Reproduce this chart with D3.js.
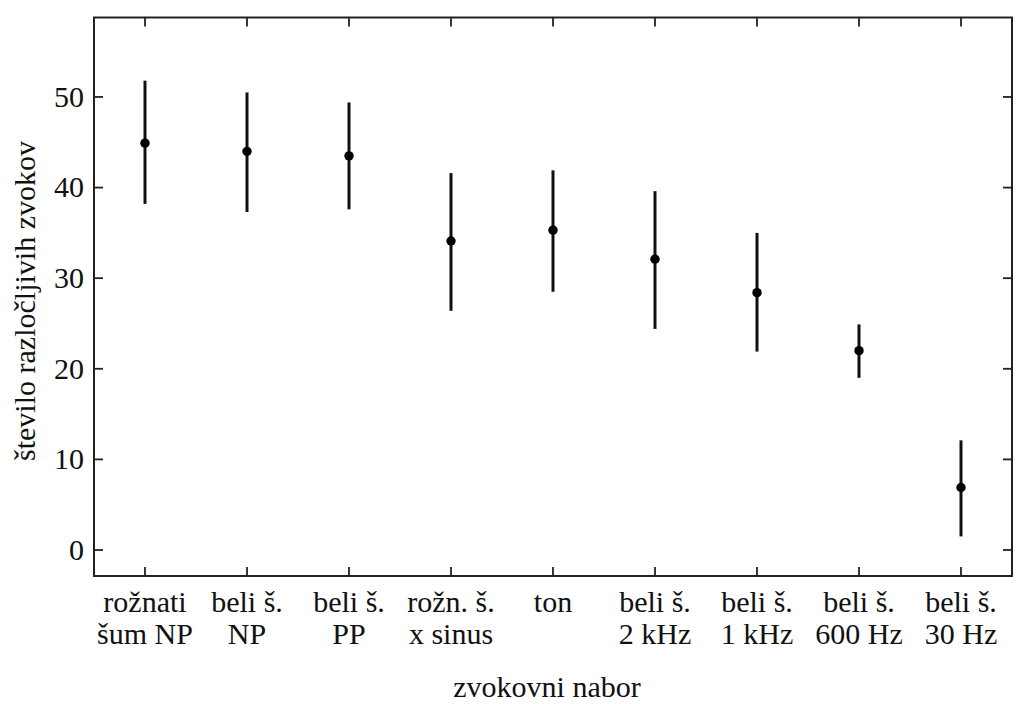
<!DOCTYPE html>
<html>
<head>
<meta charset="utf-8">
<script src="https://cdnjs.cloudflare.com/ajax/libs/d3/7.8.5/d3.min.js"></script>
<style>
  body { margin: 0; background: #fff; }
  svg text { font-family: "Liberation Serif", "DejaVu Serif", serif; fill: #111; }
</style>
</head>
<body>
<script>
var categories = [
  ["rožnati", "šum NP"],
  ["beli š.", "NP"],
  ["beli š.", "PP"],
  ["rožn. š.", "x sinus"],
  ["ton", ""],
  ["beli š.", "2 kHz"],
  ["beli š.", "1 kHz"],
  ["beli š.", "600 Hz"],
  ["beli š.", "30 Hz"]
];
var means = [44.9, 44.0, 43.5, 34.1, 35.3, 32.1, 28.4, 22.0, 6.9];
var lower = [38.2, 37.3, 37.6, 26.4, 28.5, 24.4, 21.9, 19.0, 1.5];
var upper = [51.8, 50.5, 49.4, 41.6, 41.9, 39.6, 35.0, 24.9, 12.1];
var yTicks = [0, 10, 20, 30, 40, 50];

var w = 1016, h = 704;
var m = { left: 94, right: 1012, top: 17.5, bottom: 576 };

var svg = d3.select("body").append("svg")
  .attr("width", w)
  .attr("height", h)
  .attr("font-family", "Liberation Serif, serif");

var x = d3.scalePoint()
  .domain(d3.range(categories.length))
  .range([m.left, m.right])
  .padding(0.5);

var y = d3.scaleLinear()
  .domain([-2.87, 58.77])
  .range([m.bottom, m.top]);

// ticks on all four sides, pointing inward
var tickLen = 9;
var ax = svg.append("g").attr("stroke", "#222").attr("stroke-width", 1.8);
yTicks.forEach(function (t) {
  ax.append("line").attr("x1", m.left).attr("x2", m.left + tickLen)
    .attr("y1", y(t)).attr("y2", y(t));
  ax.append("line").attr("x1", m.right).attr("x2", m.right - tickLen)
    .attr("y1", y(t)).attr("y2", y(t));
});
x.domain().forEach(function (i) {
  ax.append("line").attr("x1", x(i)).attr("x2", x(i))
    .attr("y1", m.bottom).attr("y2", m.bottom - tickLen);
  ax.append("line").attr("x1", x(i)).attr("x2", x(i))
    .attr("y1", m.top).attr("y2", m.top + tickLen);
});

svg.append("rect")
  .attr("x", m.left).attr("y", m.top)
  .attr("width", m.right - m.left).attr("height", m.bottom - m.top)
  .attr("fill", "none")
  .attr("stroke", "#222")
  .attr("stroke-width", 2);

// y tick labels
svg.selectAll(".ylab")
  .data(yTicks)
  .enter().append("text")
  .attr("x", m.left - 10)
  .attr("y", function (d) { return y(d); })
  .attr("dy", "0.33em")
  .attr("text-anchor", "end")
  .attr("font-size", 30)
  .text(function (d) { return d; });

// x tick labels (two lines)
var xl = svg.selectAll(".xlab")
  .data(categories)
  .enter().append("text")
  .attr("text-anchor", "middle")
  .attr("font-size", 30);
xl.append("tspan")
  .attr("x", function (d, i) { return x(i); })
  .attr("y", 612)
  .text(function (d) { return d[0]; });
xl.append("tspan")
  .attr("x", function (d, i) { return x(i); })
  .attr("y", 644)
  .text(function (d) { return d[1]; });

// error bars
svg.selectAll(".err")
  .data(means)
  .enter().append("line")
  .attr("x1", function (d, i) { return x(i); })
  .attr("x2", function (d, i) { return x(i); })
  .attr("y1", function (d, i) { return y(lower[i]); })
  .attr("y2", function (d, i) { return y(upper[i]); })
  .attr("stroke", "#111")
  .attr("stroke-width", 3);

svg.selectAll(".pt")
  .data(means)
  .enter().append("circle")
  .attr("cx", function (d, i) { return x(i); })
  .attr("cy", function (d) { return y(d); })
  .attr("r", 4.7)
  .attr("fill", "#000");

// axis titles
svg.append("text")
  .attr("x", (m.left + m.right) / 2 - 6)
  .attr("y", 697)
  .attr("text-anchor", "middle")
  .attr("font-size", 30)
  .text("zvokovni nabor");

svg.append("text")
  .attr("transform", "translate(35,301) rotate(-90)")
  .attr("text-anchor", "middle")
  .attr("font-size", 30)
  .text("število razločljivih zvokov");
</script>
</body>
</html>
